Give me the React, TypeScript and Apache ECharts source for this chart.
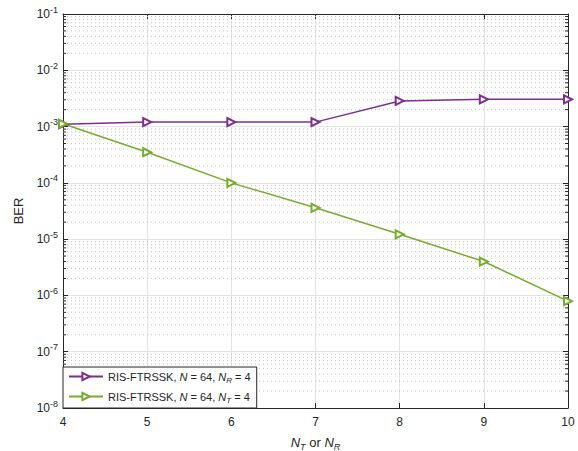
import React, { useEffect, useRef } from "react";
import * as echarts from "echarts";

const xValues = [4, 5, 6, 7, 8, 9, 10];
const berNR4 = [1.1e-3, 1.2e-3, 1.2e-3, 1.2e-3, 2.85e-3, 3.05e-3, 3.05e-3];
const berNT4 = [1.12e-3, 3.5e-4, 1.0e-4, 3.6e-5, 1.22e-5, 4.0e-6, 7.9e-7];
const seriesNames = ["RIS-FTRSSK, N = 64, N_R = 4", "RIS-FTRSSK, N = 64, N_T = 4"];
const seriesColors = ["#7E2F8E", "#77AC30"];
const legendLabels = [
  "{n|RIS-FTRSSK, }{i|N}{n| = 64, }{i|N}{sub|R}{n| = 4}",
  "{n|RIS-FTRSSK, }{i|N}{n| = 64, }{i|N}{sub|T}{n| = 4}",
];
const yMin = 1e-8;
const yMax = 1e-1;
const minorMultipliers = [2, 3, 4, 5, 6, 7, 8, 9];
const decades = [-8, -7, -6, -5, -4, -3, -2];

const TXT = "#262626";
const FONT = "Liberation Sans, Arial, sans-serif";

export default function App() {
  const ref = useRef<HTMLDivElement>(null);
  useEffect(() => {
    if (!ref.current) return;
    const chart = echarts.init(ref.current, null, { renderer: "svg" });
    const minorData: number[][] = [];
    decades.forEach((d) =>
      minorMultipliers.forEach((m) => minorData.push([4, m * Math.pow(10, d)]))
    );
    const mkSeries = (name: string, data: number[], color: string) => ({
      name,
      type: "line",
      data: xValues.map((x, i) => [x, data[i]]),
      symbol: "emptyTriangle",
      symbolRotate: -90,
      symbolSize: 8,
      clip: false,
      lineStyle: { color, width: 1.5 },
      itemStyle: { color, borderColor: color, borderWidth: 1.5 },
      z: 5,
    });
    const subRich = {
      n: { fontSize: 11, color: TXT, fontFamily: FONT },
      i: { fontSize: 11, color: TXT, fontFamily: FONT, fontStyle: "italic" },
      sub: { fontSize: 8, color: TXT, fontFamily: FONT, fontStyle: "italic", padding: [7, 0, 0, 0] },
    };
    chart.setOption({
      animation: false,
      backgroundColor: "#ffffff",
      textStyle: { fontFamily: FONT },
      grid: { left: 63, right: 10, top: 14, bottom: 43, show: false, containLabel: false, outerBoundsMode: "none" },
      legend: {
        left: 63,
        bottom: 43,
        orient: "vertical",
        data: seriesNames,
        backgroundColor: "#ffffff",
        borderColor: TXT,
        borderWidth: 1,
        borderRadius: 0,
        padding: [4, 6, 4, 5],
        itemWidth: 34,
        itemHeight: 9,
        itemGap: 7,
        formatter: (name: string) => legendLabels[seriesNames.indexOf(name)],
        textStyle: { fontSize: 11, color: TXT, fontFamily: FONT, rich: subRich },
      },
      xAxis: [
        {
          type: "value",
          min: 4,
          max: 10,
          interval: 1,
          name: "{i|N}{sub|T}{n| or }{i|N}{sub|R}",
          nameLocation: "middle",
          nameGap: 26,
          nameTextStyle: {
            color: TXT,
            rich: {
              n: { fontSize: 13, color: TXT, fontFamily: FONT },
              i: { fontSize: 13, color: TXT, fontFamily: FONT, fontStyle: "italic" },
              sub: { fontSize: 9, color: TXT, fontFamily: FONT, fontStyle: "italic", padding: [8, 0, 0, 0] },
            },
          },
          axisLine: { show: true, onZero: false, lineStyle: { color: TXT, width: 1 } },
          axisTick: { show: true, inside: true, length: 5, lineStyle: { color: TXT } },
          axisLabel: { fontSize: 12, color: TXT, margin: 8, fontFamily: FONT },
          splitLine: { show: true, lineStyle: { color: "#e3e3e3", width: 1 } },
        },
        {
          type: "value",
          position: "top",
          min: 4,
          max: 10,
          interval: 1,
          axisLine: { show: true, onZero: false, lineStyle: { color: TXT, width: 1 } },
          axisTick: { show: true, inside: true, length: 5, lineStyle: { color: TXT } },
          axisLabel: { show: false },
          splitLine: { show: false },
        },
      ],
      yAxis: [
        {
          type: "log",
          logBase: 10,
          min: yMin,
          max: yMax,
          name: "BER",
          nameLocation: "middle",
          nameGap: 38,
          nameTextStyle: { fontSize: 13, color: TXT, fontFamily: FONT },
          axisLine: { show: true, onZero: false, lineStyle: { color: TXT, width: 1 } },
          axisTick: { show: true, inside: true, length: 5, lineStyle: { color: TXT } },
          axisLabel: {
            color: TXT,
            margin: 5,
            formatter: (v: number) => `{b|10}{s|${Math.round(Math.log10(v))}}`,
            rich: {
              b: { fontSize: 12, color: TXT, fontFamily: FONT },
              s: { fontSize: 9, color: TXT, fontFamily: FONT, padding: [0, 0, 9, 0] },
            },
          },
          splitLine: { show: true, lineStyle: { color: "#e3e3e3", width: 1 } },
        },
        {
          type: "log",
          logBase: 10,
          min: yMin,
          max: yMax,
          position: "right",
          axisLine: { show: true, onZero: false, lineStyle: { color: TXT, width: 1 } },
          axisTick: { show: true, inside: true, length: 5, lineStyle: { color: TXT } },
          axisLabel: { show: false },
          splitLine: { show: false },
        },
      ],
      series: [
        {
          type: "custom",
          silent: true,
          z: 1,
          data: minorData,
          encode: { x: 0, y: 1 },
          renderItem: (params: any, api: any) => {
            const y = api.coord([4, api.value(1)])[1];
            const cs = params.coordSys;
            return {
              type: "group",
              children: [
                {
                  type: "line",
                  shape: { x1: cs.x, y1: y, x2: cs.x + cs.width, y2: y },
                  style: { stroke: "#c4c4c4", lineWidth: 1, lineDash: [1, 3] },
                },
                {
                  type: "line",
                  shape: { x1: cs.x, y1: y, x2: cs.x + 3, y2: y },
                  style: { stroke: TXT, lineWidth: 1 },
                },
                {
                  type: "line",
                  shape: { x1: cs.x + cs.width - 3, y1: y, x2: cs.x + cs.width, y2: y },
                  style: { stroke: TXT, lineWidth: 1 },
                },
              ],
            };
          },
        },
        mkSeries(seriesNames[0], berNR4, seriesColors[0]),
        mkSeries(seriesNames[1], berNT4, seriesColors[1]),
      ],
    });
    return () => chart.dispose();
  }, []);
  return (
    <div
      ref={ref}
      style={{ position: "fixed", left: 0, top: 0, width: 578, height: 451 }}
    />
  );
}
